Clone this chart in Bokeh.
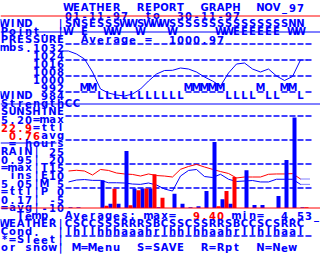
from bokeh.plotting import figure
from bokeh.models import Range1d, ColumnDataSource, Span
from bokeh.embed import file_html
from bokeh.resources import INLINE
from bokeh.core.properties import value

BLUE = "#0000ff"
RED = "#ff0000"

# ---------------- data ----------------
days = list(range(1, 31))
pressure = [1026, 1023, 1018, 1005, 988, 984, 982, 981, 983, 988,
            996, 1003, 1006.5, 1006.7, 1009, 1008, 1005, 1000, 996, 991,
            1004, 1013, 1014, 1008, 1005, 1008, 1001, 996.5, 1000.5, 1017]
sunshine = [0.05, 0.05, 0, 0, 1.59, 0.25, 0.25, 3.28, 1.12, 1.12,
            1.12, 0.05, 0, 0.82, 0.25, 0.05, 0.1, 0.98, 3.79, 0.5,
            0.25, 0, 2.17, 0.17, 0.17, 0, 0.69, 2.76, 5.2, 0.05]
rain = [0, 0, 0, 0, 0.06, 0.54, 0, 0.08, 0.5, 0.55,
        0.95, 0.29, 0, 0, 0, 0, 0, 0, 0.05, 0.48,
        0.87, 0, 0, 0, 0, 0, 0, 0, 0, 0.02]
temp_max = [11.25, 11.7, 11.25, 8.75, 12.2, 11.6, 10, 9.4, 9.1, 8.1,
            9.4, 8.4, 8.1, 7.5, 12.3, 14.1, 15.4, 13.75, 12.3, 10.9,
            9.7, 6.9, 7.5, 7.5, 7.5, 9.2, 9.4, 9.4, 9.6, 6.25]
temp_min = [4.4, 5.6, 5.9, 5.4, 5.4, 3.9, 3.9, 3.75, 3.1, 2.9,
            3.75, 2.5, 0, -1.25, 8.1, 11.6, 12.2, 7.8, 7.2, 9.2,
            6.1, 4.7, 5, 5.3, 4.4, 4.4, 6.1, 6.1, 6.1, 2.9]
wind_dir_1 = "SNSESSSWWSWWWSSSSSSSSSSSSSSSNN"
wind_dir_2 = "W E  WW  W   W     WWEEEEEE WW"
wind_strength = "CCMMLLLLLLLLLLLMMMMMLLLLMLLMML"
weather = "CSCCSSSRRRSBCSSCSSRRSBCCSCSRRC"
cond = "lhllhhhaaahrlhhlhhaahrllhlhaal"
pressure_ticks = [1032, 1024, 1016, 1008, 1000, 992, 984]
temp_ticks = [25, 20, 15, 10, 5, 0, -5, -10]
strength_level = {"C": 0, "L": 1, "M": 2}

# ---------------- screen grid ----------------
W, H = 320, 256
COLS, ROWS = 40, 32
CW, RH = W / COLS, H / ROWS
FIRST = 8          # first data column
BASE = 207.5       # pixel row of bar baseline

p = figure(width=W, height=H, x_range=Range1d(0, COLS), y_range=Range1d(ROWS, 0),
           output_backend="svg", toolbar_location=None,
           x_axis_location=None, y_axis_location=None, min_border=0,
           outline_line_color=None, background_fill_color="white",
           border_fill_color="white")
p.grid.visible = False

p.extra_y_ranges = {
    "pres": Range1d(1032 - (H - 44.5), 1032 + 44.5),
    "sun": Range1d((BASE - H) / 17.4, BASE / 17.4),
    "rain": Range1d((BASE - H) / 35.5, BASE / 35.5),
    "temp": Range1d(25 - (H - 148.5) / 1.6, 25 + 148.5 / 1.6),
    "wind": Range1d(12.875 - ROWS, 12.875),
}

# ---------------- text grid ----------------
lines = {
    0: " " * 8 + "WEATHER  REPORT  GRAPH  NOV_97",
    1: " " * 8 + "01-11-97  to  30-11-97",
    2: "WIND   |" + wind_dir_1,
    3: "Point. |" + wind_dir_2,
    4: "PRESSURE  Average =  1000.97",
    5: "mbs.%4d" % pressure_ticks[0],
    6: "    %4d" % pressure_ticks[1],
    7: "    %4d" % pressure_ticks[2],
    8: "    %4d" % pressure_ticks[3],
    9: "    %4d" % pressure_ticks[4],
    10: "    %4d" % pressure_ticks[5],
    11: "WIND%4d" % pressure_ticks[6],
    12: "Strength",
    13: "SUNSHINE",
    14: "5.20=max",
    15: "22.9=ttl",
    16: " 0.76avg",
    17: " = hours",
    18: "RAIN|%3d" % temp_ticks[0],
    19: "0.95|%3d" % temp_ticks[1],
    20: "=max|T%2d" % temp_ticks[2],
    21: " ins|E%2d" % temp_ticks[3],
    22: "5.05|M%2d" % temp_ticks[4],
    23: "=ttl|P%2d" % temp_ticks[5],
    24: "0.17|%3d" % temp_ticks[6],
    25: "=avg|%3d" % temp_ticks[7],
    26: "  Temp. Averages: max=  9.40 min=  4.53_",
    27: "WEATHER|" + weather,
    28: "Cond.  |" + cond,
    29: "*=Sleet|",
    30: "or snow| M=Menu  S=SAVE  R=Rpt  N=New",
}
red_spans = {15: (0, 4), 16: (1, 5), 26: (24, 28)}

xs, ys, ts, cs = [], [], [], []
for r, s in lines.items():
    for c, ch in enumerate(s):
        if ch == " ":
            continue
        xs.append(c + 0.5)
        ys.append(r + 0.875)
        ts.append(ch)
        a, b = red_spans.get(r, (0, 0))
        cs.append(RED if a <= c < b else BLUE)

font = dict(text_font=value("DejaVu Sans"), text_font_style="bold",
            text_font_size="10px", text_align="center", text_baseline="alphabetic")

# dashed guide rows: one dash per character cell
dash_rows = [5, 7, 9, 14, 17, 20, 23, 29]
dx0, dx1, dy = [], [], []
for r in dash_rows:
    for c in range(FIRST, COLS - 1):
        dx0.append(c + 0.125); dx1.append(c + 0.875); dy.append(r + 3.5 / RH)
for i, s in enumerate(wind_strength + "-"):
    if s != "L":
        c = FIRST + i
        dx0.append(c + 0.125); dx1.append(c + 0.875); dy.append(11 + 3.5 / RH)
p.segment(x0=dx0, x1=dx1, y0=dy, y1=dy, line_color=BLUE, line_width=1.5)

p.text(x="x", y="y", text="t", text_color="c",
       source=ColumnDataSource(dict(x=xs, y=ys, t=ts, c=cs)), **font)

# wind strength letters placed by level
p.text(x=[d + FIRST - 0.5 for d in days],
       y=[strength_level[s] for s in wind_strength],
       text=list(wind_strength), text_color=BLUE, y_range_name="wind", **font)

# ---------------- rules ----------------
p.add_layout(Span(location=15.5 / RH, dimension="width", line_color=RED, line_width=1))
p.add_layout(Span(location=31.5 / RH, dimension="width", line_color=BLUE, line_width=1))
p.add_layout(Span(location=103.5 / RH, dimension="width", line_color=BLUE, line_width=1))
p.segment(x0=[0], x1=[7], y0=[142.5 / RH], y1=[142.5 / RH], line_color=BLUE, line_width=1)

# ---------------- series ----------------
px = [d + FIRST - 0.5 for d in days]
p.line([px[0] - 0.75, px[0]], [pressure[0]] * 2, y_range_name="pres", line_color=BLUE)
p.line(px, pressure, y_range_name="pres", line_color=BLUE, line_width=1)
p.line([px[-1], px[-1] + 1], [pressure[-1]] * 2, y_range_name="pres",
       line_color=BLUE, line_dash="1 1")

p.line(px, temp_max, y_range_name="temp", line_color=RED, line_width=1)
p.line(px, temp_min, y_range_name="temp", line_color=BLUE, line_width=1)
p.line([px[-1], px[-1] + 1.2], [temp_max[-1]] * 2, y_range_name="temp",
       line_color=BLUE, line_dash="1 1")
p.line([px[-1], px[-1] + 1.2], [temp_min[-1]] * 2, y_range_name="temp",
       line_color=BLUE, line_dash="1 1")

p.vbar(x=[d + FIRST - 0.25 for d in days], width=0.5, bottom=0, top=sunshine,
       y_range_name="sun", fill_color=BLUE, line_color=None)
p.vbar(x=[d + FIRST + 0.25 for d in days], width=0.5, bottom=0, top=rain,
       y_range_name="rain", fill_color=RED, line_color=None)

p.add_layout(Span(location=0, dimension="width", line_color=RED, line_width=1,
                  y_range_name="rain"))

open("out.html", "w").write(file_html(p, INLINE))
